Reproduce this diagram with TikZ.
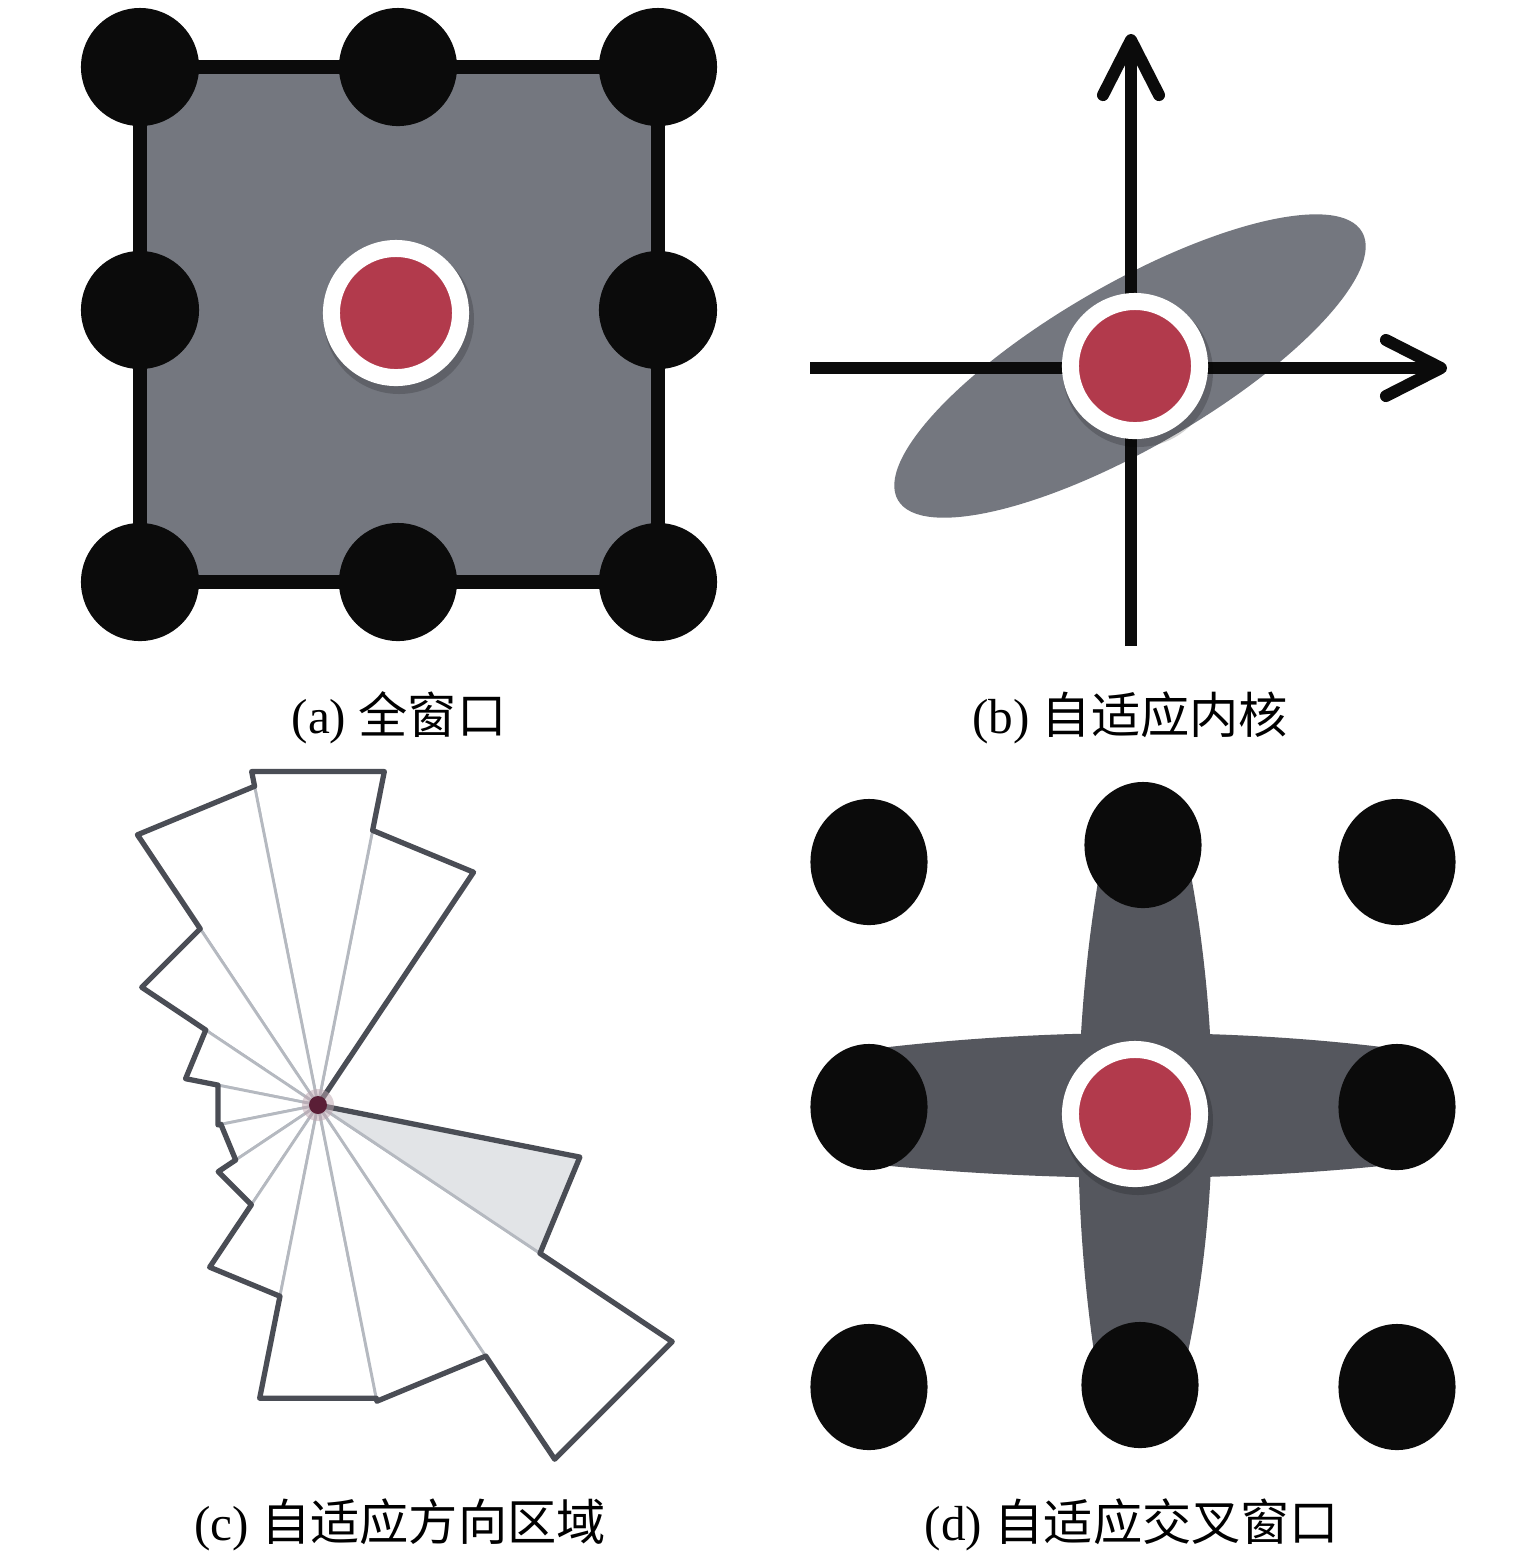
\documentclass[tikz,border=0pt]{standalone}
\usepackage{fontspec}
\setmainfont{Liberation Serif}
\newfontfamily\cjk{Noto Sans CJK SC}
\usetikzlibrary{arrows.meta,shapes.geometric}
\definecolor{dotblack}{HTML}{0B0B0B}
\definecolor{panelgray}{HTML}{74777F}
\definecolor{crossgray}{HTML}{55575E}
\definecolor{ringred}{HTML}{B23A4C}
\definecolor{roseline}{HTML}{4A4D55}
\definecolor{rosegray}{HTML}{B5B9C0}
\definecolor{rosefill}{HTML}{E2E4E7}
\definecolor{rosedot}{HTML}{5A1E36}
\begin{document}
\begin{tikzpicture}[x=0.01cm,y=-0.01cm,
  dota/.style={circle,fill=dotblack,minimum size=1.18cm,inner sep=0pt},
  dotd/.style={ellipse,fill=dotblack,minimum width=1.17cm,minimum height=1.26cm,inner sep=0pt},
  ringnode/.style={circle,fill=ringred,draw=white,line width=0.17cm,minimum size=1.29cm,inner sep=0pt},
  ringshadow/.style={fill=black,opacity=0.18},
  sqborder/.style={draw=dotblack,fill=panelgray,line width=0.14cm},
  axisline/.style={draw=dotblack,line width=0.12cm},
  axisarrow/.style={axisline,-{Straight Barb[length=0.55cm,width=0.56cm,round]}},
  rayline/.style={draw=rosegray,line width=0.8pt},
  roseedge/.style={draw=roseline,line width=1.5pt,line join=round},
  captext/.style={font=\fontsize{14}{17}\selectfont,inner sep=0pt}
]
\fill[white] (0,0) rectangle (1535,1556);
\useasboundingbox (0,0) rectangle (1535,1556);

% ---------------- (a) full window ----------------
\coordinate (aTL) at (140,67);
\coordinate (aTM) at (398,67);
\coordinate (aTR) at (658,67);
\coordinate (aML) at (140,310);
\coordinate (aMR) at (658,310);
\coordinate (aBL) at (140,582);
\coordinate (aBM) at (398,582);
\coordinate (aBR) at (658,582);
\draw[sqborder] (aTL) -- (aTR) -- (aBR) -- (aBL) -- cycle;
\node[dota] (a1) at (aTL) {};
\node[dota] (a2) at (aTM) {};
\node[dota] (a3) at (aTR) {};
\node[dota] (a4) at (aML) {};
\node[dota] (a6) at (aMR) {};
\node[dota] (a7) at (aBL) {};
\node[dota] (a8) at (aBM) {};
\node[dota] (a9) at (aBR) {};
\fill[ringshadow] (399,319) circle[radius=75];
\node[ringnode] (aring) at (396,313) {};

% ---------------- (b) adaptive kernel ----------------
\fill[panelgray,rotate around={30:(1130,366)}] (1130,366) ellipse[x radius=268,y radius=82];
\coordinate (bxl) at (810,368);
\coordinate (bxr) at (1447,368);
\coordinate (byb) at (1131,646);
\coordinate (byt) at (1131,34);
\draw[axisarrow] (bxl) -- (bxr);
\draw[axisarrow] (byb) -- (byt);
\fill[ringshadow] (1138,372) circle[radius=75];
\node[ringnode] (bring) at (1135,366) {};

% ---------------- (c) adaptive direction region ----------------
\begin{scope}[shift={(318,1105)}]
  \foreach \a/\r in {56.25/280,78.75/340,101.25/325,123.75/212,146.25/135,168.75/102,
                     191.25/99,213.75/120,236.25/195,258.75/299,281.25/302,303.75/426}
    \filldraw[fill=white,rayline] (0,0) -- (-\a:\r) -- ({-\a-22.5}:\r) -- cycle;
  \filldraw[fill=rosefill,rayline] (0,0) -- (-326.25:267) -- (-348.75:267) -- cycle;
  \draw[roseedge] (0,0) -- (-56.25:280) -- (-78.75:280) -- (-78.75:340)
    -- (-101.25:340) -- (-101.25:325) -- (-123.75:325) -- (-123.75:212)
    -- (-146.25:212) -- (-146.25:135) -- (-168.75:135) -- (-168.75:102)
    -- (-191.25:102) -- (-191.25:99) -- (-213.75:99) -- (-213.75:120)
    -- (-236.25:120) -- (-236.25:195) -- (-258.75:195) -- (-258.75:299)
    -- (-281.25:299) -- (-281.25:302) -- (-303.75:302) -- (-303.75:426)
    -- (-326.25:426) -- (-326.25:267) -- (-348.75:267) -- cycle;
  \fill[rosedot!40,opacity=0.5] (0,0) circle[radius=16];
  \fill[rosedot] (0,0) circle[radius=9];
\end{scope}

% ---------------- (d) adaptive cross window ----------------
\fill[crossgray] (880,1048) .. controls (1050,1028) and (1230,1028) .. (1390,1048)
  -- (1390,1165) .. controls (1230,1182) and (1050,1182) .. (880,1165) -- cycle;
\fill[crossgray] (1100,870) .. controls (1072,1030) and (1072,1200) .. (1094,1352)
  -- (1188,1352) .. controls (1220,1200) and (1220,1030) .. (1190,870) -- cycle;
\node[dotd] (d1) at (869,862) {};
\node[dotd] (d2) at (1143,845) {};
\node[dotd] (d3) at (1397,862) {};
\node[dotd] (d4) at (869,1107) {};
\node[dotd] (d6) at (1397,1107) {};
\node[dotd] (d7) at (869,1387) {};
\node[dotd] (d8) at (1140,1385) {};
\node[dotd] (d9) at (1397,1387) {};
\fill[ringshadow] (1138,1120) circle[radius=75];
\node[ringnode] (dring) at (1135,1114) {};

% ---------------- captions ----------------
\node[captext] (capa) at (399,718) {(a) {\cjk 全窗口}};
\node[captext] (capb) at (1130,718) {(b) {\cjk 自适应内核}};
\node[captext] (capc) at (400,1525) {(c) {\cjk 自适应方向区域}};
\node[captext] (capd) at (1132,1525) {(d) {\cjk 自适应交叉窗口}};
\end{tikzpicture}
\end{document}
